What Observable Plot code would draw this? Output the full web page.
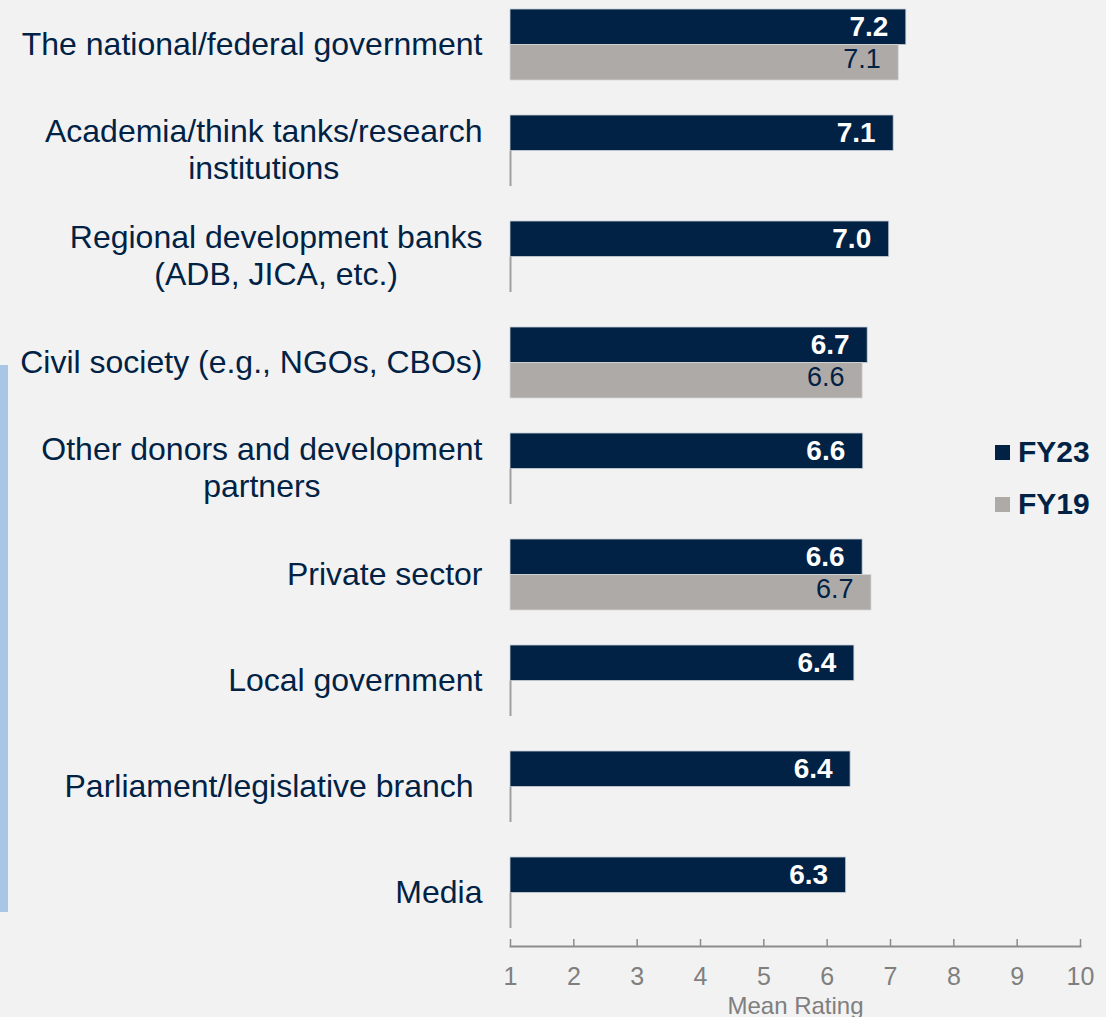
<!DOCTYPE html>
<html>
<head>
<meta charset="utf-8">
<script src="https://cdn.jsdelivr.net/npm/d3@7"></script>
<script src="https://cdn.jsdelivr.net/npm/@observablehq/plot@0.6"></script>
<style>
  html, body { margin: 0; padding: 0; background: #f2f2f2; }
  #wrap { position: relative; width: 1106px; height: 1017px; overflow: hidden; font-family: "Liberation Sans", Arial, sans-serif; }
  #sidebar { position: absolute; left: 0; top: 365px; width: 8px; height: 547px; background: #a8c6e6; }
  .leg { position: absolute; left: 995px; display: flex; align-items: center; font-weight: bold; font-size: 30px; color: #012245; }
  .leg .sw { width: 15px; height: 15px; margin-right: 8px; }
</style>
</head>
<body>
<div id="wrap">
  <div id="sidebar"></div>
  <div id="chart"></div>
  <div class="leg" style="top:435px"><span class="sw" style="background:#012245"></span>FY23</div>
  <div class="leg" style="top:487px"><span class="sw" style="background:#aeaaa8"></span>FY19</div>
</div>
<script>
const categories = [
  "The national/federal government",
  "Academia/think tanks/research\ninstitutions",
  "Regional development banks\n(ADB, JICA, etc.)",
  "Civil society (e.g., NGOs, CBOs)",
  "Other donors and development\npartners",
  "Private sector",
  "Local government",
  "Parliament/legislative branch\u00a0",
  "Media"
];
const fy23 = [7.25, 7.05, 6.98, 6.64, 6.57, 6.56, 6.43, 6.37, 6.30];
const fy19 = [7.13, null, null, 6.56, null, 6.70, null, null, null];
const fy23Labels = ["7.2", "7.1", "7.0", "6.7", "6.6", "6.6", "6.4", "6.4", "6.3"];
const fy19Labels = ["7.1", null, null, "6.6", null, "6.7", null, null, null];
const xTicks = [1, 2, 3, 4, 5, 6, 7, 8, 9, 10];

const NAVY = "#012245", GRAY = "#aeaaa8", AXIS = "#8c8c8c", TICKTXT = "#7f7f7f";
const FONT = "'Liberation Sans', Arial, sans-serif";
const LABEL_SIZE = 32;

const rows = categories.map((c, i) => ({
  category: c, fy23: fy23[i], fy19: fy19[i], l23: fy23Labels[i], l19: fy19Labels[i]
}));

// measure category label widths to center multi-line blocks, right-aligned as a block
const ctx = document.createElement("canvas").getContext("2d");
ctx.font = `${LABEL_SIZE}px 'Liberation Sans'`;
const blockWidth = c => Math.max(...c.split("\n").map(s => ctx.measureText(s).width));

const labelMarks = rows.map(r => Plot.text([r], {
  y: "category", frameAnchor: "left", text: "category",
  textAnchor: "middle", lineHeight: 1.15, fontSize: LABEL_SIZE, fill: NAVY,
  dx: -28 - blockWidth(r.category) / 2, dy: -2
}));

const bw = 71 / 2;

const plot = Plot.plot({
  width: 1106, height: 1017,
  marginLeft: 510, marginRight: 26, marginTop: 8, marginBottom: 71,
  style: { background: "#f2f2f2", fontFamily: FONT, overflow: "visible" },
  x: { domain: [1, 10] },
  y: { domain: categories, range: [8, 929], paddingInner: 0.332, paddingOuter: 0, axis: null },
  marks: [
    Plot.barX(rows, { y: "category", x1: 1, x2: "fy23", insetBottom: bw, fill: NAVY, stroke: "#c9d0d8", strokeWidth: 0.8 }),
    Plot.barX(rows.filter(d => d.fy19 != null), { y: "category", x1: 1, x2: "fy19", insetTop: bw, fill: GRAY, stroke: "#d6d6d6", strokeWidth: 0.8 }),
    Plot.tickX(rows.filter(d => d.fy19 == null), { x: 1, y: "category", insetTop: bw, stroke: "#a0a0a0", strokeWidth: 2 }),
    Plot.text(rows, { y: "category", x: "fy23", text: "l23", textAnchor: "end", dx: -18, dy: -bw / 2, fill: "white", fontWeight: "bold", fontSize: 28 }),
    Plot.text(rows.filter(d => d.fy19 != null), { y: "category", x: "fy19", text: "l19", textAnchor: "end", dx: -18, dy: bw / 2 - 3, fill: NAVY, fontSize: 27 }),
    ...labelMarks,
    Plot.frame({ anchor: "bottom", stroke: AXIS, strokeWidth: 2 }),
    Plot.axisX(xTicks, { tickSize: -7, tickPadding: 28, fontSize: 25, stroke: AXIS, fill: TICKTXT, strokeWidth: 1.5, label: null }),
    Plot.text(["Mean Rating"], { frameAnchor: "bottom", lineAnchor: "middle", dy: 60, text: d => d, fontSize: 24, fill: TICKTXT })
  ]
});
document.getElementById("chart").appendChild(plot);
</script>
</body>
</html>
